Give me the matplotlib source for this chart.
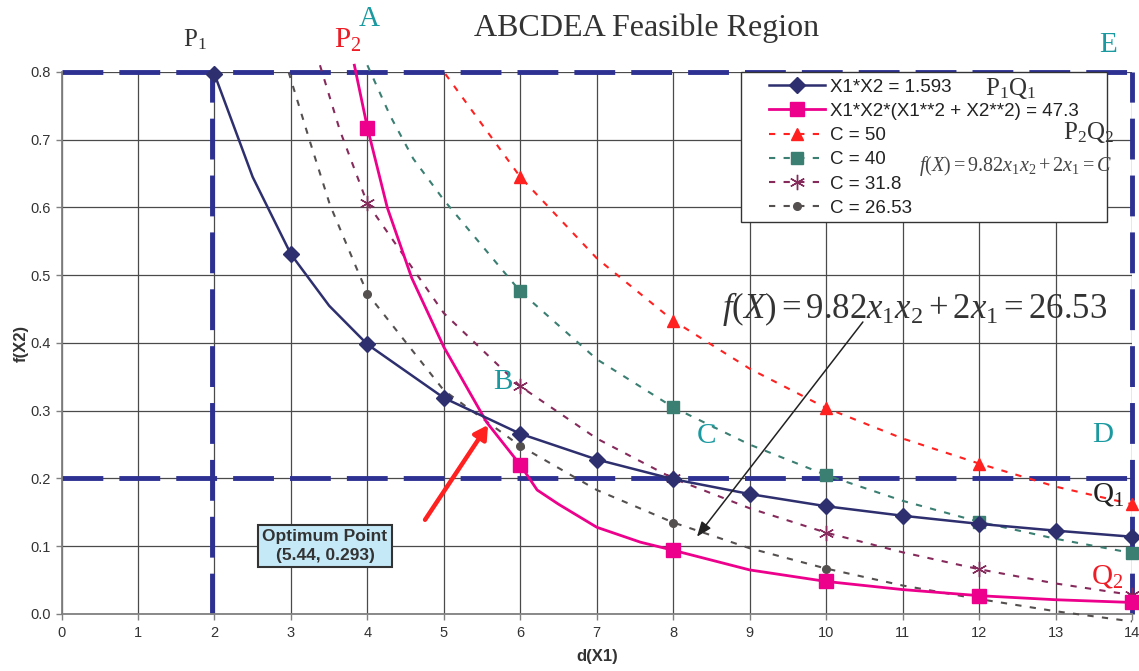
import numpy as np
import matplotlib
matplotlib.use('Agg')
import matplotlib.pyplot as plt
from matplotlib.lines import Line2D
from matplotlib.patches import Rectangle

plt.rcParams['font.family'] = ['Liberation Sans', 'DejaVu Sans']
plt.rcParams['mathtext.fontset'] = 'custom'
plt.rcParams['mathtext.rm'] = 'Liberation Serif'
plt.rcParams['mathtext.it'] = 'Liberation Serif:italic'
plt.rcParams['mathtext.bf'] = 'Liberation Serif:bold'

# ------- data ---------------------------------
# X1*X2 = 1.593
blue_x = [2, 2.5, 3, 3.5, 4, 5, 6, 7, 8, 9, 10, 11, 12, 13, 14]
blue_y = [0.797, 0.645, 0.531, 0.455, 0.398, 0.319, 0.266, 0.228, 0.199,
          0.177, 0.159, 0.145, 0.133, 0.123, 0.114]
blue_marks = [0, 2, 4, 5, 6, 7, 8, 9, 10, 11, 12, 13, 14]

# X1*X2*(X1**2 + X2**2) = 47.3
mag_x = [3.83, 4.0, 4.26, 4.58, 5.0, 5.56, 6.0, 6.22, 6.5, 7.0, 7.57, 8.0,
         9.0, 10.0, 11.0, 12.0, 13.0, 14.0]
mag_y = [0.81, 0.718, 0.60, 0.496, 0.394, 0.283, 0.220, 0.183, 0.162, 0.128,
         0.106, 0.094, 0.065, 0.048, 0.036, 0.027, 0.021, 0.017]
mag_marks = [1, 6, 11, 13, 15, 17]

# C = 50
red_x = [5.02, 6, 7, 8, 9, 10, 11, 12, 13, 14]
red_y = [0.797, 0.645, 0.525, 0.433, 0.362, 0.304, 0.259, 0.222, 0.188, 0.162]
red_marks = [1, 3, 5, 7, 9]

# C = 40
teal_x = [4.0, 4.3, 4.6, 5, 6, 7, 8, 9, 10, 11, 12, 13, 14]
teal_y = [0.81, 0.735, 0.672, 0.611, 0.476, 0.376, 0.305, 0.250, 0.205,
          0.167, 0.136, 0.111, 0.090]
teal_marks = [4, 6, 8, 10, 12]

# C = 31.8
pur_x = [3.38, 3.64, 4, 5, 6, 7, 8, 9, 10, 11, 12, 13, 14]
pur_y = [0.81, 0.714, 0.606, 0.444, 0.336, 0.259, 0.200, 0.156, 0.120,
         0.091, 0.066, 0.045, 0.028]
pur_marks = [2, 4, 6, 8, 10, 12]

# C = 26.53
gray_x = [2.97, 3.25, 3.51, 3.86, 4, 5, 6, 7, 8, 9, 10, 11, 12, 13, 14]
gray_y = [0.80, 0.697, 0.604, 0.51, 0.473, 0.330, 0.248, 0.183, 0.135,
          0.097, 0.067, 0.042, 0.022, 0.004, -0.011]
gray_marks = [4, 6, 8, 10, 12]

labels = ['X1*X2 = 1.593', 'X1*X2*(X1**2 + X2**2) = 47.3', 'C = 50',
          'C = 40', 'C = 31.8', 'C = 26.53']

# feasible region boundary
region_h = [0.8, 0.2]
region_v = [1.97, 14.0]

optimum = (5.44, 0.293)

navy = '#2E2F6E'
magenta = '#EC008C'
red = '#FF2020'
teal = '#3A7F72'
purple = '#862A5C'
gray = '#555050'
bound = '#2E3192'
cyan_txt = '#1A9AA0'
red_txt = '#EE1C25'

fig = plt.figure(figsize=(11.39, 6.71), dpi=100)
ax = fig.add_axes([0.054, 0.085, 0.9399, 0.8077])
ax.set_xlim(0, 14)
ax.set_ylim(0, 0.8)
ax.set_xticks(np.arange(0, 15, 1))
ax.set_yticks(np.arange(0, 0.81, 0.1))
ax.set_yticklabels(['%.1f' % v for v in np.arange(0, 0.81, 0.1)])
ax.grid(True, color='#4a4a4a', lw=0.9, zorder=0)
ax.set_axisbelow(True)
for s in ['top', 'right']:
    ax.spines[s].set_visible(False)
for s in ['left', 'bottom']:
    ax.spines[s].set_color('#808080')
    ax.spines[s].set_linewidth(1.3)
ax.tick_params(labelsize=10.5, colors='#808080', labelcolor='#333333',
               length=4, width=1)
ax.tick_params(axis='x', pad=5)
ax.tick_params(axis='y', pad=4)
ax.set_xlabel('d(X1)', fontsize=12, fontweight='bold', color='#333333')
ax.set_ylabel('f(X2)', fontsize=12, fontweight='bold', color='#333333')
ax.xaxis.set_label_coords(0.5, -0.064)
ax.yaxis.set_label_coords(-0.031, 0.5)

# region boundary lines
rstyle = dict(color=bound, lw=3.5, ls=(0, (8.4, 3.3)), zorder=2,
              clip_on=False, solid_capstyle='butt', dash_capstyle='butt')
for yv in region_h:
    ax.plot([0, 14], [yv, yv], **rstyle)
for xv in region_v:
    ax.plot([xv, xv], [0, 0.8], **rstyle)

dstyle = dict(lw=1.5, ls=(0, (3, 4)), clip_on=False, zorder=3)
ax.plot(gray_x, gray_y, color=gray, marker='o', ms=5.5, markevery=gray_marks,
        **dstyle)
ax.plot(pur_x, pur_y, color=purple, marker=(6, 2, 0), ms=11, mew=1,
        markevery=pur_marks, **dstyle)
ax.plot(teal_x, teal_y, color=teal, marker='s', ms=8, markevery=teal_marks,
        **dstyle)
ax.plot(red_x, red_y, color=red, marker='^', ms=8, markevery=red_marks,
        **dstyle)
ax.plot(mag_x, mag_y, color=magenta, lw=2, marker='s', ms=9.5,
        markevery=mag_marks, clip_on=False, zorder=4)
ax.plot(blue_x, blue_y, color=navy, lw=1.8, marker='D', ms=8.5,
        markevery=blue_marks, clip_on=False, zorder=4)

# legend: separate frame so it can be as wide as the original box
ax.add_patch(Rectangle((0.6347, 0.7232), 0.342, 0.2768,
                       transform=ax.transAxes, fc='white', ec='#333333',
                       lw=1.0, zorder=4.5, clip_on=False))
handles = [
    Line2D([], [], color=navy, lw=1.8, marker='D', ms=8.5),
    Line2D([], [], color=magenta, lw=2, marker='s', ms=9.5),
    Line2D([], [], color=red, lw=1.5, ls=(0, (3, 4)), marker='^', ms=8),
    Line2D([], [], color=teal, lw=1.5, ls=(0, (3, 4)), marker='s', ms=8),
    Line2D([], [], color=purple, lw=1.5, ls=(0, (3, 4)), marker=(6, 2, 0),
           ms=11, mew=1),
    Line2D([], [], color=gray, lw=1.5, ls=(0, (3, 4)), marker='o', ms=5.5),
]
leg = ax.legend(handles, labels, loc='upper left',
                bbox_to_anchor=(0.657, 0.995), frameon=False,
                fontsize=13.5, handlelength=3.0, handletextpad=0.3,
                labelspacing=0.38, borderpad=0.2, borderaxespad=0)
leg.set_zorder(5)
for t in leg.get_texts():
    t.set_color('#222222')

# annotations
serif = ['Liberation Serif', 'DejaVu Serif']
txt = dict(family=serif, ha='center', va='center', clip_on=False, zorder=6)
fig.text(0.568, 0.958, 'ABCDEA Feasible Region', fontsize=23,
         color='#333333', family=serif, ha='center', va='center')
ax.text(1.745, 0.847, r'P$_1$', fontsize=18, color='#333333', **txt)
ax.text(3.74, 0.846, r'P$_2$', fontsize=21, color=red_txt, **txt)
ax.text(4.02, 0.878, 'A', fontsize=21, color=cyan_txt, **txt)
ax.text(13.69, 0.840, 'E', fontsize=21, color=cyan_txt, **txt)
ax.text(12.42, 0.776, r'P$_1$Q$_1$', fontsize=18, color='#333333', **txt)
ax.text(13.43, 0.710, r'P$_2$Q$_2$', fontsize=18, color='#333333', **txt)
ax.text(12.47, 0.661, r'$f(X) = 9.82x_1x_2 + 2x_1 = C$', fontsize=14.5,
        color='#444444', **txt)
ax.text(11.16, 0.450, r'$f(X) = 9.82x_1x_2 + 2x_1 = 26.53$', fontsize=25,
        color='#333333', **txt)
ax.text(5.77, 0.342, 'B', fontsize=21, color=cyan_txt, **txt)
ax.text(8.43, 0.263, 'C', fontsize=21, color=cyan_txt, **txt)
ax.text(13.62, 0.264, 'D', fontsize=21, color=cyan_txt, **txt)
ax.text(13.69, 0.176, r'Q$_1$', fontsize=21, color='#222222', **txt)
ax.text(13.67, 0.055, r'Q$_2$', fontsize=21, color=red_txt, **txt)

ax.text(3.446, 0.1004, 'Optimum Point\n(%.2f, %.3f)' % optimum,
        fontsize=12.5, fontweight='bold', color='#333333', ha='center',
        va='center', linespacing=1.35, zorder=6,
        bbox=dict(boxstyle='square,pad=0.25', fc='#C6E9F8', ec='#333333',
                  lw=1.5))

ax.annotate('', xy=(5.578, 0.279), xytext=(4.754, 0.139),
            arrowprops=dict(arrowstyle='-|>,head_length=0.8,head_width=0.45',
                            color=red, lw=3.2, shrinkA=0, shrinkB=0),
            zorder=6)
ax.annotate('', xy=(8.31, 0.114), xytext=(10.48, 0.431),
            arrowprops=dict(arrowstyle='-|>,head_length=0.9,head_width=0.35',
                            color='#222222', lw=1.1, shrinkA=0, shrinkB=0),
            zorder=6)

fig.savefig('out.png', dpi=100)
